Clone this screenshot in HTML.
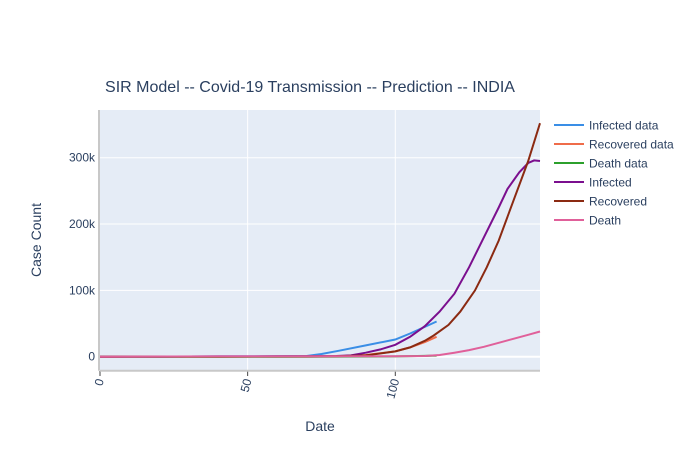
<!DOCTYPE html>
<html><head><meta charset="utf-8"><style>
body{margin:0;background:#fff;}
svg{display:block;font-family:"Liberation Sans",Arial,sans-serif;}
</style></head><body>
<svg id="chart" width="700" height="450">
<rect x="0" y="0" width="700" height="450" fill="#fff"/>
<rect x="100" y="110" width="440" height="260.7" fill="#e5ecf6"/>
<g id="grid"></g>
<g id="series"></g>
<g id="axes"></g>
<text x="310" y="92" text-anchor="middle" font-size="16" fill="#2a3f5f">SIR Model --  Covid-19 Transmission -- Prediction -- INDIA</text>
<text x="320" y="431" text-anchor="middle" font-size="14" fill="#2a3f5f">Date</text>
<text transform="translate(41,240) rotate(-90)" text-anchor="middle" font-size="14" fill="#2a3f5f">Case Count</text>
<g id="legend"></g>
</svg>
<script>
const xTicks=[0,50,100];
const yTicks=[0,100000,200000,300000];
const yTickLabels=["0","100k","200k","300k"];
const seriesNames=["Infected data","Recovered data","Death data","Infected","Recovered","Death"];
const seriesColors=["#3a8ee6","#ef6c4a","#2ca02c","#7b0f8e","#8b2a12","#e0609a"];
const infDataX=[0,20,40,60,70,75,81,90,100,105,110,114];
const infDataY=[0,200,400,600,1000,4000,9000,17000,26000,35000,45000,53000];
const recDataX=[0,40,70,80,90,100,105,110,114];
const recDataY=[0,0,100,500,2500,8000,14000,22000,30000];
const deaDataX=[0,60,80,100,110,114];
const deaDataY=[0,0,100,500,1200,1600];
const infX=[0,20,40,60,70,80,85,90,95,100,105,110,115,120,125,130,135,138,142,145,147,149];
const infY=[0,200,400,600,700,1000,2000,6000,11000,18000,30000,46000,68000,95000,135000,180000,225000,253000,278000,292000,296000,295000];
const recX=[0,40,70,80,90,100,105,110,113,118,122,127,131,135,140,145,149];
const recY=[0,200,400,800,2000,8000,14000,24000,32000,48000,68000,100000,135000,175000,235000,295000,352000];
const deaX=[0,40,80,100,110,115,120,125,130,135,140,145,149];
const deaY=[0,500,700,800,1000,2500,6000,10000,15000,21000,27000,33000,38000];
const xs=v=>100+v*2.953;
const ys=v=>356.7-v*0.0006633;
const NS="http://www.w3.org/2000/svg";
function mk(tag,attrs,parent){const e=document.createElementNS(NS,tag);for(const k in attrs)e.setAttribute(k,attrs[k]);parent.appendChild(e);return e;}
const grid=document.getElementById('grid'),axes=document.getElementById('axes'),ser=document.getElementById('series'),leg=document.getElementById('legend');
xTicks.forEach((t,i)=>{
 if(t>0){const g=mk('line',{x1:xs(t),x2:xs(t),y1:110,y2:370.7,stroke:'#fff','stroke-width':1},grid);
 
 }
 const tk=mk('line',{x1:xs(t),x2:xs(t),y1:371,y2:376,stroke:'#444','stroke-width':1},axes);
 
 
 const lb=mk('text',{transform:`translate(${xs(t)+4},380) rotate(-75)`,'text-anchor':'end','font-size':12,fill:'#2a3f5f'},axes);
 lb.textContent=String(t);
 
 
});
yTicks.forEach((t,i)=>{
 const g=mk('line',{x1:100,x2:540,y1:ys(t),y2:ys(t),stroke:'#fff','stroke-width':t===0?2:1},grid);
 
 
 const lb=mk('text',{x:95,y:ys(t)+4,'text-anchor':'end','font-size':12,fill:'#2a3f5f'},axes);
 lb.textContent=yTickLabels[i];
 
 
});
const ax=mk('line',{x1:100,x2:540,y1:370.7,y2:370.7,stroke:'#c8c8c8','stroke-width':2},axes);


const ay=mk('line',{x1:99,x2:99,y1:110,y2:370.7,stroke:'#c8c8c8','stroke-width':2},axes);


const all=[[infDataX,infDataY],[recDataX,recDataY],[deaDataX,deaDataY],[infX,infY],[recX,recY],[deaX,deaY]];
const lineNames=['infected-data-line','recovered-data-line','death-data-line','infected-line','recovered-line','death-line'];
all.forEach((s,i)=>{
 const d=s[0].map((x,j)=>(j?'L':'M')+xs(x).toFixed(1)+','+ys(s[1][j]).toFixed(1)).join('');
 const p=mk('path',{d:d,fill:'none',stroke:seriesColors[i],'stroke-width':2},ser);
 
 
});
seriesNames.forEach((n,i)=>{
 const y=125+i*19;
 const g=mk('g',{},leg);
 
 
 mk('line',{x1:554,x2:584,y1:y,y2:y,stroke:seriesColors[i],'stroke-width':2},g);
 const t=mk('text',{x:589,y:y+4.5,'font-size':12,fill:'#2a3f5f'},g);
 t.textContent=n;
});
</script>
</body></html>
